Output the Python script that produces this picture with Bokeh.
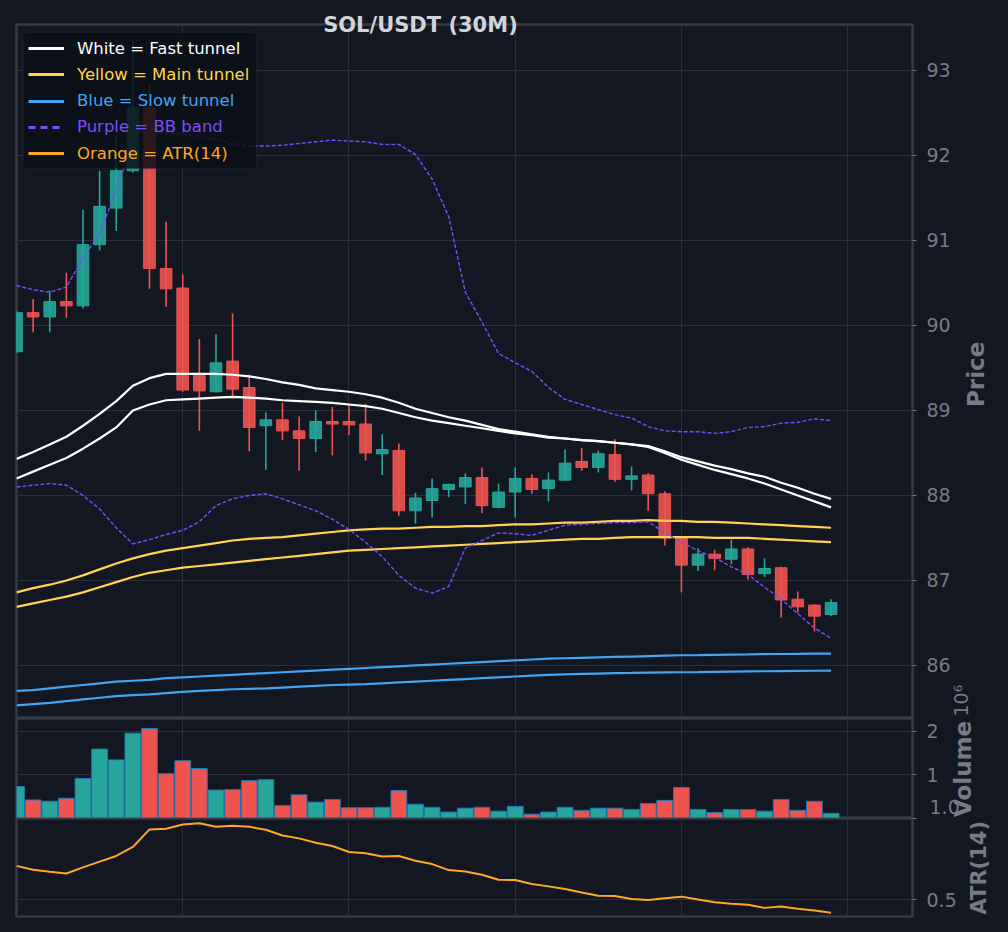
import math
from bokeh.plotting import figure
from bokeh.layouts import column
from bokeh.models import (Range1d, FixedTicker, Legend, LegendItem, BoxAnnotation, LinearAxis,
                          PrintfTickFormatter, ColumnDataSource)
from bokeh.embed import file_html
from bokeh.resources import INLINE

BG = "#131722"
GRID = "#2a2e39"
FRAME = "#363a45"
TXT = "#787b86"
UP = "#26a69a"
DOWN = "#ef5350"
FONT = "DejaVu Sans"

# 50 bougies de 30 minutes
idx = list(range(50))
opens = [89.69, 90.15, 90.10, 90.28, 90.23, 90.95, 91.38, 91.82, 92.56, 90.67,
         90.44, 89.41, 89.22, 89.58, 89.27, 88.82, 88.89, 88.76, 88.67, 88.87,
         88.87, 88.84, 88.49, 88.53, 87.82, 87.94, 88.07, 88.10, 88.21, 87.86,
         88.04, 88.20, 88.08, 88.18, 88.40, 88.33, 88.48, 88.19, 88.24, 88.02,
         87.51, 87.18, 87.31, 87.25, 87.37, 87.08, 87.15, 86.78, 86.71, 86.60]
highs = [90.17, 90.31, 90.41, 90.62, 91.36, 91.82, 92.25, 93.35, 92.83, 91.22,
         90.60, 89.84, 89.90, 90.14, 89.42, 88.98, 89.09, 88.93, 89.00, 89.04,
         89.06, 89.08, 88.72, 88.61, 88.03, 88.20, 88.14, 88.26, 88.33, 88.14,
         88.33, 88.25, 88.27, 88.54, 88.56, 88.53, 88.66, 88.34, 88.26, 88.05,
         87.52, 87.38, 87.36, 87.48, 87.39, 87.26, 87.16, 86.87, 86.72, 86.78]
lows = [89.67, 89.92, 89.92, 90.09, 90.20, 90.88, 91.11, 91.80, 90.43, 90.22,
        89.22, 88.76, 89.21, 89.14, 88.52, 88.30, 88.65, 88.29, 88.51, 88.47,
        88.71, 88.41, 88.24, 87.76, 87.67, 87.74, 87.98, 87.90, 87.79, 87.85,
        87.74, 88.02, 87.93, 88.17, 88.29, 88.27, 88.16, 88.06, 87.82, 87.41,
        86.86, 87.11, 87.12, 87.19, 87.01, 87.04, 86.56, 86.62, 86.40, 86.58]
closes = [90.15, 90.10, 90.28, 90.23, 90.95, 91.40, 91.82, 92.56, 90.67, 90.43,
          89.24, 89.23, 89.56, 89.25, 88.80, 88.89, 88.76, 88.67, 88.87, 88.84,
          88.83, 88.50, 88.54, 87.82, 87.97, 88.08, 88.13, 88.21, 87.88, 88.04,
          88.20, 88.07, 88.18, 88.38, 88.33, 88.49, 88.19, 88.23, 88.02, 87.50,
          87.18, 87.31, 87.26, 87.37, 87.07, 87.14, 86.77, 86.69, 86.58, 86.74]
volumes = [720000, 410000, 380000, 450000, 910000, 1590000, 1340000, 1960000, 2070000, 1020000,
           1320000, 1140000, 640000, 650000, 860000, 880000, 280000, 530000, 360000, 420000,
           230000, 230000, 240000, 630000, 310000, 240000, 130000, 220000, 240000, 150000,
           260000, 80000, 130000, 240000, 170000, 220000, 220000, 190000, 330000, 400000,
           700000, 190000, 120000, 190000, 190000, 150000, 420000, 170000, 380000, 100000]

fast_a = [88.43, 88.51, 88.60, 88.69, 88.82, 88.96, 89.11, 89.29, 89.38, 89.43,
          89.43, 89.43, 89.43, 89.42, 89.40, 89.37, 89.33, 89.30, 89.26, 89.24,
          89.22, 89.19, 89.15, 89.09, 89.02, 88.97, 88.92, 88.88, 88.83, 88.78,
          88.75, 88.72, 88.69, 88.67, 88.65, 88.64, 88.62, 88.60, 88.57, 88.50,
          88.42, 88.36, 88.30, 88.25, 88.20, 88.14, 88.07, 88.00, 87.93, 87.86]
fast_b = [88.20, 88.28, 88.36, 88.44, 88.55, 88.67, 88.80, 89.00, 89.07, 89.12,
          89.13, 89.14, 89.15, 89.16, 89.15, 89.14, 89.12, 89.11, 89.10, 89.09,
          89.07, 89.05, 89.02, 88.97, 88.92, 88.88, 88.85, 88.82, 88.79, 88.76,
          88.73, 88.71, 88.68, 88.67, 88.65, 88.64, 88.62, 88.60, 88.58, 88.52,
          88.45, 88.40, 88.35, 88.31, 88.26, 88.22, 88.15, 88.09, 88.02, 87.96]
main_a = [86.86, 86.91, 86.95, 87.00, 87.06, 87.13, 87.20, 87.26, 87.31, 87.35,
          87.38, 87.41, 87.44, 87.47, 87.49, 87.50, 87.51, 87.53, 87.55, 87.57,
          87.59, 87.60, 87.61, 87.61, 87.62, 87.63, 87.63, 87.64, 87.64, 87.65,
          87.66, 87.66, 87.67, 87.68, 87.68, 87.69, 87.70, 87.70, 87.71, 87.70,
          87.70, 87.69, 87.69, 87.68, 87.67, 87.66, 87.65, 87.64, 87.63, 87.62]
main_b = [86.69, 86.73, 86.77, 86.81, 86.86, 86.92, 86.98, 87.04, 87.09, 87.12,
          87.15, 87.17, 87.19, 87.21, 87.23, 87.25, 87.27, 87.29, 87.31, 87.33,
          87.35, 87.36, 87.37, 87.38, 87.39, 87.40, 87.41, 87.42, 87.43, 87.44,
          87.45, 87.46, 87.47, 87.48, 87.49, 87.49, 87.50, 87.51, 87.51, 87.51,
          87.51, 87.51, 87.50, 87.50, 87.50, 87.49, 87.48, 87.47, 87.46, 87.45]
slow_a = [85.70, 85.71, 85.73, 85.75, 85.77, 85.79, 85.81, 85.82, 85.83, 85.85,
          85.86, 85.87, 85.88, 85.89, 85.90, 85.91, 85.92, 85.93, 85.94, 85.95,
          85.96, 85.97, 85.98, 85.99, 86.00, 86.01, 86.02, 86.03, 86.04, 86.05,
          86.06, 86.07, 86.08, 86.085, 86.09, 86.095, 86.10, 86.105, 86.11, 86.115,
          86.12, 86.122, 86.125, 86.128, 86.13, 86.133, 86.135, 86.137, 86.139, 86.14]
slow_b = [85.53, 85.545, 85.56, 85.58, 85.60, 85.62, 85.64, 85.65, 85.66, 85.675,
          85.69, 85.70, 85.71, 85.72, 85.725, 85.73, 85.74, 85.75, 85.76, 85.77,
          85.775, 85.78, 85.79, 85.80, 85.81, 85.82, 85.83, 85.84, 85.85, 85.86,
          85.87, 85.88, 85.89, 85.895, 85.90, 85.905, 85.91, 85.912, 85.915, 85.918,
          85.92, 85.922, 85.925, 85.928, 85.93, 85.932, 85.934, 85.936, 85.938, 85.94]
bb_upper = [90.47, 90.42, 90.39, 90.45, 90.79, 91.08, 91.59, 92.16, 92.25, 92.26,
            92.26, 92.22, 92.19, 92.14, 92.11, 92.11, 92.12, 92.14, 92.16, 92.18,
            92.17, 92.16, 92.13, 92.13, 92.01, 91.72, 91.28, 90.39, 90.04, 89.67,
            89.56, 89.46, 89.27, 89.13, 89.07, 89.01, 88.95, 88.91, 88.81, 88.76,
            88.75, 88.75, 88.73, 88.75, 88.80, 88.81, 88.85, 88.86, 88.90, 88.88]
bb_lower = [88.10, 88.12, 88.14, 88.12, 88.00, 87.84, 87.62, 87.43, 87.48, 87.54,
            87.59, 87.69, 87.88, 87.96, 88.00, 88.02, 87.96, 87.89, 87.82, 87.72,
            87.60, 87.45, 87.28, 87.06, 86.91, 86.85, 86.93, 87.38, 87.47, 87.56,
            87.55, 87.53, 87.59, 87.65, 87.66, 87.67, 87.68, 87.68, 87.69, 87.56,
            87.45, 87.35, 87.27, 87.16, 87.07, 86.92, 86.78, 86.61, 86.44, 86.32]
atr = [0.709, 0.685, 0.673, 0.662, 0.700, 0.735, 0.770, 0.825, 0.933, 0.937,
       0.963, 0.971, 0.949, 0.955, 0.949, 0.931, 0.896, 0.878, 0.851, 0.831,
       0.794, 0.787, 0.766, 0.770, 0.740, 0.720, 0.683, 0.674, 0.654, 0.624,
       0.622, 0.598, 0.583, 0.567, 0.546, 0.526, 0.524, 0.506, 0.500, 0.510,
       0.520, 0.502, 0.486, 0.476, 0.470, 0.451, 0.459, 0.445, 0.435, 0.421]

price_ticks = [86, 87, 88, 89, 90, 91, 92, 93]

colors = [UP if c >= o else DOWN for o, c in zip(opens, closes)]
src = ColumnDataSource(dict(
    x=idx, h=highs, l=lows, vol=volumes, color=colors,
    top=[max(o, c) for o, c in zip(opens, closes)],
    bot=[min(o, c) for o, c in zip(opens, closes)],
))

x_range = Range1d(0, 53.9)


def make_fig(frame_h, y_range, top, bottom, ticks):
    p = figure(frame_width=896, frame_height=frame_h, x_range=x_range, y_range=y_range,
               y_axis_location="right", output_backend="svg", toolbar_location=None,
               min_border_left=16, min_border_right=0, min_border_top=top,
               min_border_bottom=bottom, background_fill_color=BG, border_fill_color=BG)
    p.outline_line_color = FRAME
    p.outline_line_width = 2.5
    p.xaxis.visible = False
    p.xgrid.ticker = FixedTicker(ticks=[10, 20, 30, 40, 50])
    p.grid.grid_line_color = GRID
    p.grid.grid_line_width = 1
    p.yaxis.ticker = FixedTicker(ticks=ticks)
    p.yaxis.axis_line_color = None
    p.yaxis.major_tick_line_color = TXT
    p.yaxis.major_tick_out = 4
    p.yaxis.major_tick_in = 0
    p.yaxis.minor_tick_line_color = None
    p.yaxis.major_label_text_color = TXT
    p.yaxis.major_label_text_font = FONT
    p.yaxis.major_label_text_font_size = "19px"
    p.yaxis.major_label_standoff = 10
    return p


def text_axis(p, side, pos, text, standoff, size, bold=True, color=TXT, angle=math.pi / 2):
    # un axe sans trait ni tick, dont l'unique étiquette porte le texte
    ax = LinearAxis(ticker=FixedTicker(ticks=[pos]), major_label_overrides={pos: text},
                    axis_line_color=None, major_tick_line_color=None,
                    minor_tick_line_color=None, major_tick_out=0, major_tick_in=0,
                    major_label_standoff=standoff, major_label_text_color=color,
                    major_label_text_font=FONT, major_label_text_font_size=size,
                    major_label_text_font_style="bold" if bold else "normal")
    if angle is not None:
        ax.major_label_orientation = angle
    p.add_layout(ax, side)


# --- prix ---
p = make_fig(694, Range1d(85.376, 93.54), 24, 0, price_ticks)
p.segment(x0="x", y0="l", x1="x", y1="h", color="color", line_width=1.6, source=src)
p.vbar(x="x", top="top", bottom="bot", width=0.7, fill_color="color", fill_alpha=0.9,
       line_color="color", line_width=1, source=src)
p.line(idx, fast_a, color="#ffffff", line_width=2.2)
p.line(idx, fast_b, color="#ffffff", line_width=2.2)
p.line(idx, main_a, color="#ffd54f", line_width=2.2)
p.line(idx, main_b, color="#ffd54f", line_width=2.2)
p.line(idx, slow_a, color="#42a5f5", line_width=2.2)
p.line(idx, slow_b, color="#42a5f5", line_width=2.2)
p.line(idx, bb_upper, color="#7c4dff", line_width=1.4, line_dash="4 2")
p.line(idx, bb_lower, color="#7c4dff", line_width=1.4, line_dash="4 2")

# traits plus épais, cachés : ils ne servent qu'aux symboles de la légende
r_fast = p.line(idx, fast_a, color="#ffffff", line_width=3.2, visible=False)
r_main = p.line(idx, main_a, color="#ffd54f", line_width=3.2, visible=False)
r_slow = p.line(idx, slow_a, color="#42a5f5", line_width=3.2, visible=False)
r_bb = p.line(idx, bb_upper, color="#7c4dff", line_width=3.2, line_dash="7 5", visible=False)
r_atr = p.line(idx, atr, color="#ffa726", line_width=3.2, visible=False)

p.add_layout(BoxAnnotation(left=0.42, right=14.44, top=93.446, bottom=91.846,
                           fill_color="#0c0f16", fill_alpha=0.85, line_color="#2f333d",
                           line_width=1.5, border_radius=4))
rows = [("White = Fast tunnel", r_fast, "#ffffff"),
        ("Yellow = Main tunnel", r_main, "#ffd54f"),
        ("Blue = Slow tunnel", r_slow, "#42a5f5"),
        ("Purple = BB band", r_bb, "#7c4dff"),
        ("Orange = ATR(14)", r_atr, "#ffa726")]
for i, (text, r, col) in enumerate(rows):
    lg = Legend(items=[LegendItem(label=text, renderers=[r])],
                location=(12, 660 - 26.33 * i), padding=0, margin=0, spacing=0,
                glyph_width=36, glyph_height=20, label_height=20, label_standoff=13,
                label_text_font=FONT, label_text_font_size="16.5px", label_text_color=col,
                background_fill_alpha=0, border_line_alpha=0)
    p.add_layout(lg)

text_axis(p, "above", 24.3, "SOL/USDT (30M)", -12, "21px", color="#d1d4dc", angle=None)
text_axis(p, "right", 85.399, "10⁶", 8, "19px", bold=False)
text_axis(p, "right", 89.04, "Price", -10, "23px")

# --- volume ---
pv = make_fig(100, Range1d(-20000, 2300000), 0, 0, [1000000, 2000000])
pv.yaxis.major_label_overrides = {1000000: "1", 2000000: "2"}
pv.vbar(x="x", top="vol", bottom=0, width=0.95, fill_color="color", line_color="#1f77b4",
        line_width=1, source=src)
# le "1.0" du haut de l'ATR, tenu juste au-dessus du bord
text_axis(pv, "right", 258400, "1.0", -12, "19px", bold=False, angle=None)
text_axis(pv, "right", 14800, "Volume", 0, "23px")

# --- ATR ---
pa = make_fig(98, Range1d(0.398, 1.0), 0, 8, [0.5, 1.0])
pa.yaxis.formatter = PrintfTickFormatter(format="%.1f")
pa.yaxis.major_label_overrides = {1.0: ""}
pa.line(idx, atr, color="#ffa726", line_width=2)
text_axis(pa, "right", 0.41, "ATR(14)", 20, "21px")

layout = column(p, pv, pa, spacing=0, styles={"background-color": BG})
html = file_html(layout, INLINE)
html = html.replace("<body>", '<body style="background-color:%s;">' % BG)
open("out.html", "w").write(html)
